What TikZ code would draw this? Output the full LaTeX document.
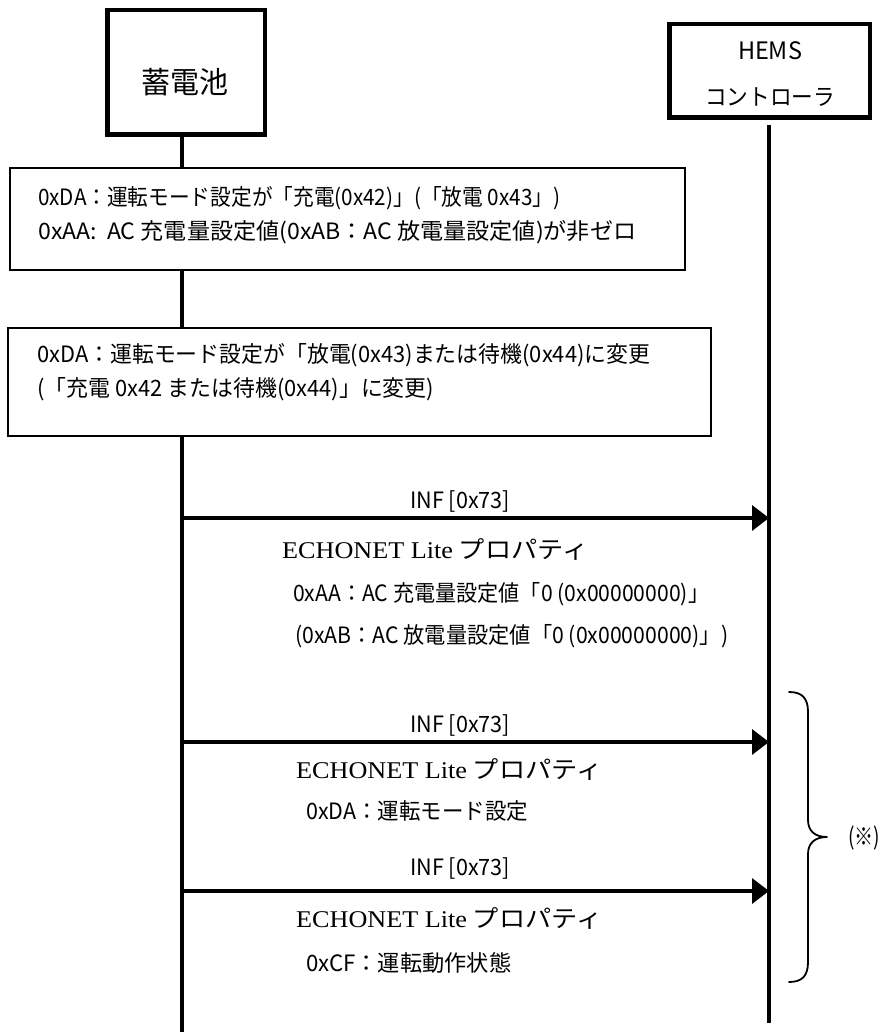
\documentclass[tikz,border=0pt]{standalone}
\usepackage{fontspec}
\usepackage{graphicx}
\setmainfont{Noto Sans CJK JP}
\newfontfamily\serifen{Liberation Serif}
\usetikzlibrary{arrows.meta}
\newsavebox\fwbox
\newcommand\fitw[2]{\sbox\fwbox{#2}\pgfmathsetmacro\fwfac{#1/\the\wd\fwbox}\scalebox{\fwfac}[1]{\usebox\fwbox}}
\tikzset{
  actor/.style={draw, line width=4.5pt, inner sep=0pt},
  notebox/.style={draw, line width=2pt, fill=white, inner sep=0pt},
  life/.style={line width=3.5pt},
  msg/.style={line width=3.5pt, -{Triangle[length=17pt,width=25pt]}},
  txt/.style={anchor=base west, inner sep=0pt, font=\fontsize{22.5}{26}\selectfont},
  ctxt/.style={anchor=base, inner sep=0pt},
  bracestyle/.style={line width=1.8pt, line cap=round, line join=round},
}
\begin{document}
\begin{tikzpicture}[x={(1pt,0)}, y={(0,-1pt)}]
\useasboundingbox[fill=white] (0,0) rectangle (880,1032);
% actors
\node[actor, minimum width=157.5pt, minimum height=124.5pt] (bat) at (186,72.5) {};
\node[ctxt, font=\fontsize{30}{32}\selectfont] (battxt) at (185,94) {\fitw{87}{蓄電池}};
\node[actor, minimum width=200.5pt, minimum height=93.5pt] (hems) at (769.5,71) {};
\node[ctxt, font=\fontsize{24}{26}\selectfont] (hemstxt1) at (770,60) {\fitw{64}{HEMS}};
\node[ctxt, font=\fontsize{23}{26}\selectfont] (hemstxt2) at (770,106) {\fitw{130}{コントローラ}};
% lifelines
\coordinate (batTop) at (182,135);
\coordinate (batEnd) at (182,1032);
\coordinate (hemsTop) at (769,125);
\coordinate (hemsEnd) at (769,1023);
\draw[life] (batTop) -- (batEnd);
\draw[life] (hemsTop) -- (hemsEnd);
% condition boxes
\node[notebox, minimum width=675pt, minimum height=102pt] (box1) at (347.5,219) {};
\node[txt] (b1a) at (38,206) {\fitw{522}{0xDA：運転モード設定が「充電(0x42)」(「放電 0x43」)}};
\node[txt] (b1b) at (38,240) {\fitw{598}{0xAA:\ \ AC 充電量設定値(0xAB：AC 放電量設定値)が非ゼロ}};
\node[notebox, minimum width=703pt, minimum height=108pt] (box2) at (359.5,382) {};
\node[txt] (b2a) at (37,362) {\fitw{613}{0xDA：運転モード設定が「放電(0x43)または待機(0x44)に変更}};
\node[txt] (b2b) at (37,396) {\fitw{397}{(「充電 0x42 または待機(0x44)」に変更)}};
% message 1
\coordinate (m1s) at (182,518);
\coordinate (m1e) at (769,518);
\draw[msg] (m1s) -- (m1e);
\node[txt] (inf1) at (410,508) {\fitw{100}{INF [0x73]}};
\node[txt, font=\fontsize{24}{27}\selectfont] (ech1) at (282,558) {\fitw{306}{{\serifen ECHONET Lite} プロパティ}};
\node[txt] (p1a) at (293,601) {\fitw{416}{0xAA：AC 充電量設定値「0 (0x00000000)」}};
\node[txt] (p1b) at (295,643) {\fitw{433}{(0xAB：AC 放電量設定値「0 (0x00000000)」)}};
% message 2
\coordinate (m2s) at (182,742);
\coordinate (m2e) at (769,742);
\draw[msg] (m2s) -- (m2e);
\node[txt] (inf2) at (410,732) {\fitw{100}{INF [0x73]}};
\node[txt, font=\fontsize{24}{27}\selectfont] (ech2) at (296,778) {\fitw{306}{{\serifen ECHONET Lite} プロパティ}};
\node[txt] (p2) at (306,819) {\fitw{222}{0xDA：運転モード設定}};
% message 3
\coordinate (m3s) at (182,891);
\coordinate (m3e) at (769,891);
\draw[msg] (m3s) -- (m3e);
\node[txt] (inf3) at (410,875) {\fitw{100}{INF [0x73]}};
\node[txt, font=\fontsize{24}{27}\selectfont] (ech3) at (296,927) {\fitw{306}{{\serifen ECHONET Lite} プロパティ}};
\node[txt] (p3) at (306,971) {\fitw{205}{0xCF：運転動作状態}};
% brace
\coordinate (brTop) at (789,692);
\coordinate (brTip) at (827,837);
\coordinate (brBot) at (789,982);
\draw[bracestyle] (brTop) .. controls (802,692) and (808,698) .. (808,712) -- (808,820)
  .. controls (808,831) and (815,837) .. (brTip)
  .. controls (815,837) and (808,843) .. (808,854) -- (808,962)
  .. controls (808,976) and (802,982) .. (brBot);
\node[ctxt, font=\fontsize{24}{26}\selectfont] (note) at (864,845) {\fitw{32}{(※)}};
\end{tikzpicture}
\end{document}
